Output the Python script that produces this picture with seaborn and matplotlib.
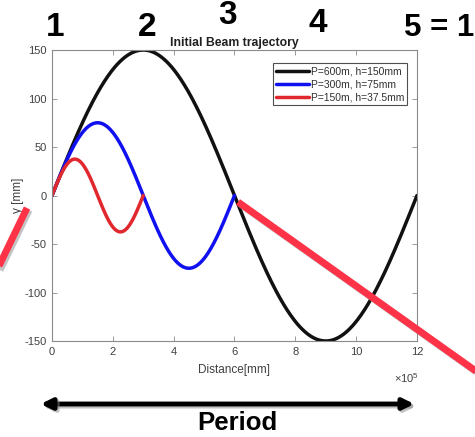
import numpy as np
import pandas as pd
import matplotlib
matplotlib.use("Agg")
import matplotlib.pyplot as plt
import matplotlib.patheffects as pe
from matplotlib.lines import Line2D
from matplotlib.patches import FancyArrowPatch
from matplotlib.ticker import FuncFormatter
import seaborn as sns

labels = ["P=600m, h=150mm", "P=300m, h=75mm", "P=150m, h=37.5mm"]
periods_m = [600, 300, 150]          # half-wavelength in metres
heights_mm = [150, 75, 37.5]         # amplitude in mm
colors = ["#111111", "#1010F0", "#E0282E"]
x_ticks = [0, 2e5, 4e5, 6e5, 8e5, 10e5, 12e5]
x_scale = 1e5
y_ticks = [-150, -100, -50, 0, 50, 100, 150]
point_labels = ["1", "2", "3", "4", "5 = 1"]

rows = []
for lab, P, h in zip(labels, periods_m, heights_mm):
    L = P * 1000.0
    xs = np.linspace(0, 2 * L, 400)
    for xv in xs:
        rows.append({"Distance": xv, "y": h * np.sin(np.pi * xv / L), "series": lab})
df = pd.DataFrame(rows)

sns.set_theme(style="white")
plt.rcParams["font.family"] = ["Liberation Sans", "DejaVu Sans"]
plt.rcParams["mathtext.fontset"] = "custom"
plt.rcParams["mathtext.rm"] = "Liberation Sans"
plt.rcParams["axes.unicode_minus"] = False

W, H = 475, 437
fig = plt.figure(figsize=(W / 100, H / 100), dpi=100)
ax = fig.add_axes([52 / W, 1 - 341 / H, (417 - 52) / W, (341 - 50) / H])

sns.lineplot(data=df, x="Distance", y="y", hue="series", hue_order=labels,
             palette=dict(zip(labels, colors)), linewidth=2.5, ax=ax,
             sort=False, estimator=None)

ax.set_xlim(0, 12e5)
ax.set_ylim(-150, 150)
ax.set_xticks(x_ticks)
ax.set_yticks(y_ticks)
ax.xaxis.set_major_formatter(FuncFormatter(lambda v, p: f"{v / x_scale:g}"))
ax.tick_params(direction="in", length=3.5, width=0.6, colors="#8a8a8a",
               labelcolor="#404040", labelsize=8, top=True, right=True,
               bottom=True, left=True, pad=4)
for s in ax.spines.values():
    s.set_color("#8a8a8a")
    s.set_linewidth(0.8)
ax.set_xlabel("Distance[mm]", fontsize=8.5, color="#404040", labelpad=5)
ax.set_ylabel("y [mm]", fontsize=8.5, color="#404040", labelpad=0)
ax.set_title("Initial Beam trajectory", fontsize=8.8, fontweight="bold",
             color="#202020", pad=3)

leg = ax.legend(loc="upper right", bbox_to_anchor=(0.973, 0.955), fontsize=7.4,
                frameon=True, fancybox=False, handlelength=3.2,
                handletextpad=0.2, borderpad=0.3, labelspacing=0.3,
                borderaxespad=0)
leg.get_frame().set_edgecolor("#222222")
leg.get_frame().set_linewidth(0.8)
for t in leg.get_texts():
    t.set_color("#303030")
for ln in leg.get_lines():
    ln.set_linewidth(2.5)

# ---- annotations (figure pixels, origin top-left converted) ----
def fx(px):
    return px / W

def fy(py):
    return 1 - py / H

fig.text(fx(419), fy(378), r"$\times10^{5}$", fontsize=8, color="#404040",
         ha="right", va="center")

shadow = [pe.SimpleLineShadow(offset=(1.5, -1.5), shadow_color="#888888", alpha=0.5),
          pe.Normal()]

red = "#FF3347"
fig.add_artist(Line2D([fx(238), fx(480)], [fy(202), fy(374)], color=red, lw=5,
                      transform=fig.transFigure, solid_capstyle="butt",
                      path_effects=shadow))
fig.add_artist(Line2D([fx(27), fx(-2)], [fy(208), fy(268)], color=red, lw=5,
                      transform=fig.transFigure, solid_capstyle="butt",
                      path_effects=shadow))

arrow = FancyArrowPatch((fx(38), fy(404)), (fx(417), fy(404)),
                        transform=fig.transFigure, arrowstyle="<|-|>",
                        mutation_scale=16, lw=3.5, color="black",
                        path_effects=shadow)
fig.add_artist(arrow)
fig.text(fx(237), fy(423), "Period", fontsize=18.5, fontweight="bold",
         ha="center", va="center", color="black")

num_pos = [(55, 27), (147, 28), (228, 15), (318, 23)]
for lab, (px, py) in zip(point_labels[:4], num_pos):
    fig.text(fx(px), fy(py), lab, fontsize=24, fontweight="bold",
             ha="center", va="center", color="black")
fig.text(fx(404), fy(28), point_labels[4], fontsize=22.5, fontweight="bold",
         ha="left", va="center", color="black")

fig.savefig("out.png", dpi=100, facecolor="white")
